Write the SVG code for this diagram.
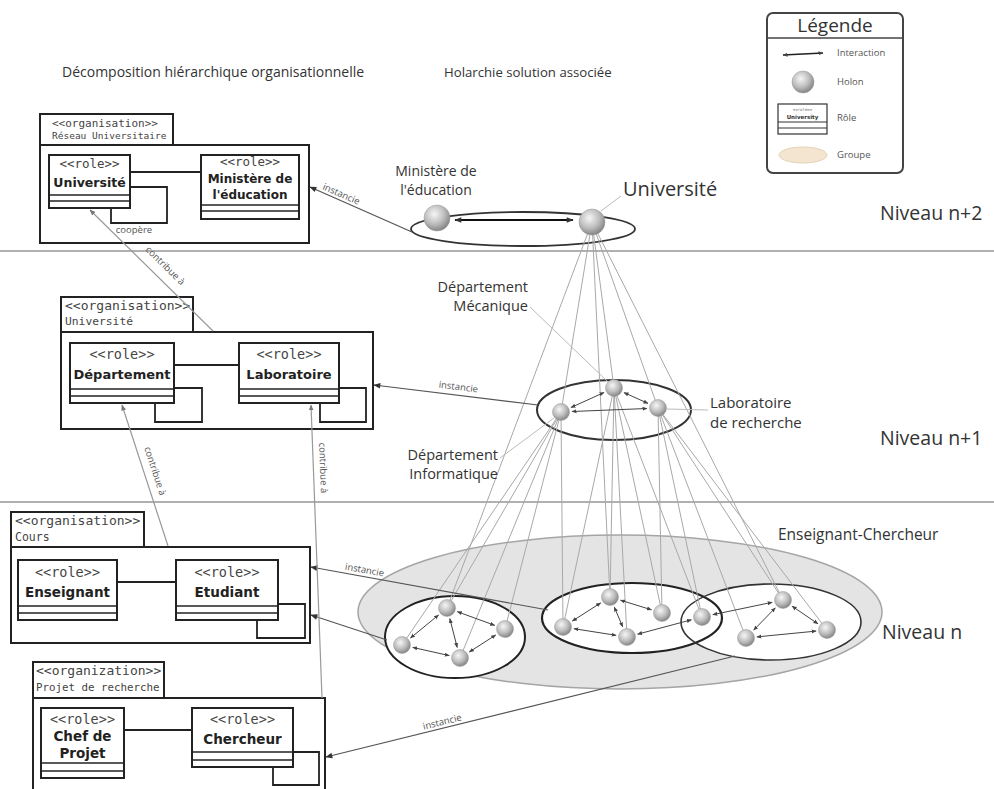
<svg xmlns="http://www.w3.org/2000/svg" width="994" height="789" viewBox="0 0 994 789">
  <defs>
    <radialGradient id="sph" cx="0.4" cy="0.35" r="0.7">
      <stop offset="0" stop-color="#f6f6f6"/>
      <stop offset="0.55" stop-color="#bdbdbd"/>
      <stop offset="1" stop-color="#7c7c7c"/>
    </radialGradient>
    <marker id="ah" viewBox="0 0 10 10" refX="9" refY="5" markerWidth="8" markerHeight="7" orient="auto-start-reverse" markerUnits="userSpaceOnUse">
      <path d="M0,1 L10,5 L0,9 z" fill="#333"/>
    </marker>
    <marker id="ahs" viewBox="0 0 10 10" refX="9" refY="5" markerWidth="5" markerHeight="5" orient="auto-start-reverse" markerUnits="userSpaceOnUse">
      <path d="M0,1 L10,5 L0,9 z" fill="#444"/>
    </marker>
    <marker id="ahg" viewBox="0 0 10 10" refX="9" refY="5" markerWidth="6" markerHeight="6" orient="auto-start-reverse" markerUnits="userSpaceOnUse">
      <path d="M0,1 L10,5 L0,9 z" fill="#777"/>
    </marker>
  </defs>
  <style>
    .box { fill:#fff; stroke:#222; stroke-width:2; }
    .rl { stroke:#222; stroke-width:1.6; fill:none; }
    .loop { stroke:#222; stroke-width:1.8; fill:none; }
    .mono { font-family:"DejaVu Sans Mono","Liberation Mono",monospace; fill:#444; }
    .rm { font-family:"DejaVu Sans Mono","Liberation Mono",monospace; fill:#444; text-anchor:middle; }
    .rn { font-family:"DejaVu Sans","Liberation Sans",sans-serif; font-weight:bold; fill:#222; text-anchor:middle; }
    .sans { font-family:"Open Sans","DejaVu Sans",sans-serif; fill:#333; }
    .small { font-family:"Open Sans","DejaVu Sans",sans-serif; fill:#555; font-size:9.5px; }
    .sep { stroke:#b0b0b0; stroke-width:2; }
    .link { stroke:#a8a8a8; stroke-width:1; fill:none; }
    .lead { stroke:#bbb; stroke-width:1; fill:none; }
    .inst { stroke:#555; stroke-width:1.2; fill:none; marker-end:url(#ah); }
    .contrib { stroke:#999; stroke-width:1.2; fill:none; marker-end:url(#ahg); }
    .ia { stroke:#444; stroke-width:1; marker-start:url(#ahs); marker-end:url(#ahs); }
    .holon { fill:url(#sph); stroke:#999; stroke-width:0.5; }
    .grp { fill:#fff; stroke:#222; stroke-width:2; }
  </style>

  <rect width="994" height="789" fill="#fff"/>

  <!-- column titles -->
  <text class="sans" x="62" y="77" font-size="14">Décomposition hiérarchique organisationnelle</text>
  <text class="sans" x="444" y="77" font-size="13.2">Holarchie solution associée</text>

  <!-- level separators -->
  <g id="separators">
    <line class="sep" x1="0" y1="251" x2="994" y2="251"/>
    <line class="sep" x1="0" y1="502" x2="994" y2="502"/>
  </g>

  <!-- level labels -->
  <text class="sans" x="880" y="220" font-size="19.5">Niveau n+2</text>
  <text class="sans" x="880" y="445" font-size="19.5">Niveau n+1</text>
  <text class="sans" x="882" y="639" font-size="19.5">Niveau n</text>

  <!-- legend -->
  <g id="legend">
    <rect x="767" y="13" width="136" height="160" rx="6" fill="#fff" stroke="#444" stroke-width="2"/>
    <line x1="767" y1="38" x2="903" y2="38" stroke="#444" stroke-width="1.5"/>
    <text class="sans" x="835" y="32" font-size="19" text-anchor="middle">Légende</text>
    <line x1="783" y1="55" x2="823" y2="53" stroke="#222" stroke-width="1.5" marker-start="url(#ahs)" marker-end="url(#ahs)"/>
    <text class="small" x="837" y="56">Interaction</text>
    <circle class="holon" cx="803" cy="82" r="11"/>
    <text class="small" x="837" y="85">Holon</text>
    <rect x="778" y="104" width="49" height="30" fill="#fff" stroke="#333" stroke-width="1.2"/>
    <line x1="778" y1="122" x2="827" y2="122" stroke="#333" stroke-width="1.2"/>
    <line x1="778" y1="128" x2="827" y2="128" stroke="#333" stroke-width="1"/>
    <text x="802.5" y="111" font-family="DejaVu Sans Mono, monospace" font-size="4" fill="#666" text-anchor="middle">&lt;&lt;role&gt;&gt;</text>
    <text x="802.5" y="119" font-family="DejaVu Sans, sans-serif" font-size="5.5" font-weight="bold" fill="#333" text-anchor="middle">University</text>
    <text class="small" x="837" y="121">Rôle</text>
    <ellipse cx="803" cy="155" rx="24" ry="8" fill="#f3e5cf" stroke="#e3d3b8" stroke-width="1"/>
    <text class="small" x="837" y="158">Groupe</text>
  </g>

  <!-- organisation: Réseau Universitaire -->
  <g id="org-reseau">
    <rect class="box" x="40" y="114" width="133" height="31"/>
    <rect class="box" x="40" y="145" width="269" height="98"/>
    <text class="mono" x="52" y="127" font-size="11">&lt;&lt;organisation&gt;&gt;</text>
    <text class="mono" x="52" y="139" font-size="9.5">Réseau Universitaire</text>
  </g>
  <g id="role-universite">
    <rect class="box" x="49" y="155" width="81" height="53"/>
    <line class="rl" x1="49" y1="195" x2="130" y2="195"/>
    <line class="rl" x1="49" y1="201" x2="130" y2="201"/>
    <text class="rm" x="89.5" y="168" font-size="12.5">&lt;&lt;role&gt;&gt;</text>
    <text class="rn" x="89.5" y="187" font-size="12.5">Université</text>
  </g>
  <g id="role-ministere">
    <rect class="box" x="201" y="155" width="98" height="64"/>
    <line class="rl" x1="201" y1="205" x2="299" y2="205"/>
    <line class="rl" x1="201" y1="211" x2="299" y2="211"/>
    <text class="rm" x="250" y="166" font-size="12.5">&lt;&lt;role&gt;&gt;</text>
    <text class="rn" x="250" y="183" font-size="12">Ministère de</text>
    <text class="rn" x="250" y="199" font-size="12">l'éducation</text>
  </g>

  <!-- organisation: Université -->
  <g id="org-universite">
    <rect class="box" x="61" y="297" width="132" height="35"/>
    <rect class="box" x="61" y="332" width="312" height="97"/>
    <text class="mono" x="65" y="310" font-size="13">&lt;&lt;organisation&gt;&gt;</text>
    <text class="mono" x="65" y="325" font-size="11.3">Université</text>
  </g>
  <g id="role-departement">
    <rect class="box" x="70" y="343" width="104" height="60"/>
    <line class="rl" x1="70" y1="389" x2="174" y2="389"/>
    <line class="rl" x1="70" y1="396" x2="174" y2="396"/>
    <text class="rm" x="122" y="359" font-size="13.5">&lt;&lt;role&gt;&gt;</text>
    <text class="rn" x="122" y="379" font-size="13">Département</text>
  </g>
  <g id="role-laboratoire">
    <rect class="box" x="239" y="343" width="100" height="60"/>
    <line class="rl" x1="239" y1="389" x2="339" y2="389"/>
    <line class="rl" x1="239" y1="396" x2="339" y2="396"/>
    <text class="rm" x="289" y="359" font-size="13.5">&lt;&lt;role&gt;&gt;</text>
    <text class="rn" x="289" y="379" font-size="13">Laboratoire</text>
  </g>

  <!-- organisation: Cours -->
  <g id="org-cours">
    <rect class="box" x="11" y="512" width="133" height="35"/>
    <rect class="box" x="11" y="547" width="299" height="96"/>
    <text class="mono" x="15" y="525" font-size="13">&lt;&lt;organisation&gt;&gt;</text>
    <text class="mono" x="15" y="541" font-size="11.5">Cours</text>
  </g>
  <g id="role-enseignant">
    <rect class="box" x="18" y="560" width="99" height="60"/>
    <line class="rl" x1="18" y1="606" x2="117" y2="606"/>
    <line class="rl" x1="18" y1="613" x2="117" y2="613"/>
    <text class="rm" x="67.5" y="577" font-size="13.5">&lt;&lt;role&gt;&gt;</text>
    <text class="rn" x="67.5" y="597" font-size="13.5">Enseignant</text>
  </g>
  <g id="role-etudiant">
    <rect class="box" x="176" y="560" width="102" height="60"/>
    <line class="rl" x1="176" y1="606" x2="278" y2="606"/>
    <line class="rl" x1="176" y1="613" x2="278" y2="613"/>
    <text class="rm" x="227" y="577" font-size="13.5">&lt;&lt;role&gt;&gt;</text>
    <text class="rn" x="227" y="597" font-size="13.5">Etudiant</text>
  </g>

  <!-- organisation: Projet de recherche -->
  <g id="org-projet">
    <rect class="box" x="33" y="662" width="131" height="36"/>
    <rect class="box" x="33" y="698" width="292" height="102"/>
    <text class="mono" x="36" y="675" font-size="13">&lt;&lt;organization&gt;&gt;</text>
    <text class="mono" x="36" y="691" font-size="10.8">Projet de recherche</text>
  </g>
  <g id="role-chef">
    <rect class="box" x="41" y="708" width="83" height="70"/>
    <line class="rl" x1="41" y1="763" x2="124" y2="763"/>
    <line class="rl" x1="41" y1="771" x2="124" y2="771"/>
    <text class="rm" x="82.5" y="724" font-size="13.5">&lt;&lt;role&gt;&gt;</text>
    <text class="rn" x="82.5" y="741" font-size="13.5">Chef de</text>
    <text class="rn" x="82.5" y="758" font-size="13.5">Projet</text>
  </g>
  <g id="role-chercheur">
    <rect class="box" x="192" y="708" width="101" height="59"/>
    <line class="rl" x1="192" y1="752" x2="293" y2="752"/>
    <line class="rl" x1="192" y1="760" x2="293" y2="760"/>
    <text class="rm" x="242.5" y="724" font-size="13.5">&lt;&lt;role&gt;&gt;</text>
    <text class="rn" x="242.5" y="744" font-size="13.5">Chercheur</text>
  </g>

  <!-- role associations and self-loops -->
  <g id="associations">
    <line class="loop" x1="130" y1="172" x2="201" y2="172"/>
    <polyline class="loop" points="130,187 167,187 167,223 111,223 111,208"/>
    <text class="small" x="134" y="233" text-anchor="middle" font-size="9">coopère</text>
    <line class="loop" x1="174" y1="365" x2="239" y2="365"/>
    <polyline class="loop" points="174,388 202,388 202,422 155,422 155,403"/>
    <polyline class="loop" points="339,388 366,388 366,422 320,422 320,403"/>
    <line class="loop" x1="117" y1="582" x2="176" y2="582"/>
    <polyline class="loop" points="278,604 305,604 305,638 257,638 257,620"/>
    <line class="loop" x1="124" y1="730" x2="192" y2="730"/>
    <polyline class="loop" points="293,752 319,752 319,785 273,785 273,767"/>
  </g>

  <!-- level n group -->
  <ellipse id="group-enseignant-chercheur" cx="620" cy="612" rx="262" ry="77" fill="#e4e4e4" stroke="#a5a5a5" stroke-width="1.5"/>
  <g id="group-cours">
    <ellipse class="grp" cx="455" cy="637" rx="70" ry="41"/>
  </g>
  <g id="group-middle">
    <ellipse cx="632" cy="618" rx="90" ry="35" fill="#fff"/>
  </g>
  <g id="group-projet">
    <ellipse cx="771" cy="622" rx="90" ry="38" fill="#fff"/>
  </g>
  <ellipse cx="632" cy="618" rx="90" ry="35" fill="none" stroke="#222" stroke-width="2.2"/>
  <ellipse cx="771" cy="622" rx="90" ry="38" fill="none" stroke="#333" stroke-width="1.6"/>

  <!-- n+2 and n+1 groups -->
  <ellipse id="group-n2" cx="523" cy="229" rx="112" ry="17" fill="none" stroke="#333" stroke-width="1.8"/>
  <ellipse id="group-n1" cx="614" cy="410" rx="77" ry="30" fill="none" stroke="#333" stroke-width="2"/>

  <!-- composition links between levels -->
  <g id="composition-links">
    <line class="link" x1="592" y1="222" x2="561" y2="412"/>
    <line class="link" x1="592" y1="222" x2="614" y2="388"/>
    <line class="link" x1="592" y1="222" x2="658" y2="408"/>
    <line class="link" x1="592" y1="222" x2="447" y2="608"/>
    <line class="link" x1="592" y1="222" x2="610" y2="597"/>
    <line class="link" x1="592" y1="222" x2="783" y2="600"/>
    <line class="link" x1="561" y1="412" x2="447" y2="608"/>
    <line class="link" x1="561" y1="412" x2="505" y2="629"/>
    <line class="link" x1="561" y1="412" x2="402" y2="645"/>
    <line class="link" x1="561" y1="412" x2="460" y2="658"/>
    <line class="link" x1="561" y1="412" x2="563" y2="627"/>
    <line class="link" x1="614" y1="388" x2="610" y2="597"/>
    <line class="link" x1="614" y1="388" x2="563" y2="627"/>
    <line class="link" x1="614" y1="388" x2="627" y2="637"/>
    <line class="link" x1="614" y1="388" x2="662" y2="613"/>
    <line class="link" x1="614" y1="388" x2="702" y2="617"/>
    <line class="link" x1="658" y1="408" x2="702" y2="617"/>
    <line class="link" x1="658" y1="408" x2="783" y2="600"/>
    <line class="link" x1="658" y1="408" x2="827" y2="630"/>
    <line class="link" x1="658" y1="408" x2="746" y2="638"/>
    <line class="link" x1="658" y1="408" x2="662" y2="613"/>
  </g>

  <!-- label leaders -->
  <g id="leaders">
    <line class="lead" x1="621" y1="196" x2="601" y2="211"/>
    <line class="lead" x1="530" y1="307" x2="607" y2="381"/>
    <line class="lead" x1="500" y1="458" x2="554" y2="418"/>
    <line class="lead" x1="708" y1="410" x2="667" y2="409"/>
  </g>

  <!-- instanciation and contribution connectors -->
  <g id="connectors">
    <line class="inst" x1="412" y1="232" x2="310" y2="187"/>
    <text class="small" transform="translate(340,197) rotate(23.8)" text-anchor="middle" font-size="10">instancie</text>
    <line class="inst" x1="538" y1="405" x2="374" y2="385"/>
    <text class="small" transform="translate(458,390) rotate(7)" text-anchor="middle" font-size="10">instancie</text>
    <line class="inst" x1="548" y1="610" x2="311" y2="567"/>
    <text class="small" transform="translate(364,573) rotate(10.3)" text-anchor="middle" font-size="10">instancie</text>
    <line class="inst" x1="387" y1="640" x2="311" y2="615"/>
    <line class="inst" x1="735" y1="656" x2="326" y2="757"/>
    <text class="small" transform="translate(443,725) rotate(-13.9)" text-anchor="middle" font-size="10">instancie</text>

    <line class="contrib" x1="213" y1="331" x2="90" y2="210"/>
    <text class="small" transform="translate(163,268) rotate(44.5)" text-anchor="middle" font-size="10">contribue à</text>
    <line class="contrib" x1="168" y1="546" x2="122" y2="405"/>
    <text class="small" transform="translate(152,472) rotate(72)" text-anchor="middle" font-size="10">contribue à</text>
    <line class="contrib" x1="322" y1="698" x2="311" y2="405"/>
    <text class="small" transform="translate(320,468) rotate(88)" text-anchor="middle" font-size="10">contribue à</text>
  </g>

  <!-- interactions between holons -->
  <g id="interactions">
    <line x1="455" y1="220" x2="573" y2="220" stroke="#111" stroke-width="1.8" marker-start="url(#ah)" marker-end="url(#ah)"/>
    <line class="ia" x1="604" y1="392.5" x2="571" y2="407.5"/>
    <line class="ia" x1="624" y1="392.6" x2="648" y2="403.4"/>
    <line class="ia" x1="572" y1="411.5" x2="647" y2="408.5"/>
    <line class="ia" x1="438.5" y1="615" x2="410.5" y2="638"/>
    <line class="ia" x1="449.8" y1="618.6" x2="457.2" y2="647.4"/>
    <line class="ia" x1="457.3" y1="611.7" x2="494.7" y2="625.3"/>
    <line class="ia" x1="495.7" y1="635" x2="469.3" y2="652"/>
    <line class="ia" x1="412.7" y1="647.4" x2="449.3" y2="655.6"/>
    <line class="ia" x1="600.7" y1="602.9" x2="572.3" y2="621.1"/>
    <line class="ia" x1="614.3" y1="607.1" x2="622.7" y2="626.9"/>
    <line class="ia" x1="573.9" y1="628.7" x2="616.1" y2="635.3"/>
    <line class="ia" x1="620.5" y1="600.2" x2="651.5" y2="609.8"/>
    <line class="ia" x1="637.6" y1="634.2" x2="691.4" y2="619.8"/>
    <line class="ia" x1="712.8" y1="614.7" x2="772.2" y2="602.3"/>
    <line class="ia" x1="775.3" y1="607.9" x2="753.7" y2="630.1"/>
    <line class="ia" x1="792.1" y1="606.2" x2="817.9" y2="623.8"/>
    <line class="ia" x1="756.9" y1="636.9" x2="816.1" y2="631.1"/>
  </g>

  <!-- holons -->
  <g id="holon-ministere"><circle class="holon" cx="437" cy="218" r="13"/></g>
  <g id="holon-universite"><circle class="holon" cx="592" cy="222" r="13"/></g>
  <g id="holon-dep-mecanique"><circle class="holon" cx="614" cy="388" r="8.5"/></g>
  <g id="holon-dep-informatique"><circle class="holon" cx="561" cy="412" r="8.5"/></g>
  <g id="holon-laboratoire"><circle class="holon" cx="658" cy="408" r="8.5"/></g>
  <g id="holons-n">
    <circle class="holon" cx="447" cy="608" r="8.5"/>
    <circle class="holon" cx="505" cy="629" r="8.5"/>
    <circle class="holon" cx="402" cy="645" r="8.5"/>
    <circle class="holon" cx="460" cy="658" r="8.5"/>
    <circle class="holon" cx="610" cy="597" r="8.5"/>
    <circle class="holon" cx="563" cy="627" r="8.5"/>
    <circle class="holon" cx="627" cy="637" r="8.5"/>
    <circle class="holon" cx="662" cy="613" r="8.5"/>
    <circle class="holon" cx="702" cy="617" r="8.5"/>
    <circle class="holon" cx="783" cy="600" r="8.5"/>
    <circle class="holon" cx="827" cy="630" r="8.5"/>
    <circle class="holon" cx="746" cy="638" r="8.5"/>
  </g>

  <!-- holon labels -->
  <text class="sans" x="436" y="176" font-size="14" text-anchor="middle">Ministère de</text>
  <text class="sans" x="436" y="195" font-size="14" text-anchor="middle">l'éducation</text>
  <text class="sans" x="623" y="196" font-size="20">Université</text>
  <text class="sans" x="528" y="292" font-size="14.5" text-anchor="end">Département</text>
  <text class="sans" x="528" y="311" font-size="14.5" text-anchor="end">Mécanique</text>
  <text class="sans" x="710" y="408" font-size="15">Laboratoire</text>
  <text class="sans" x="710" y="428" font-size="15">de recherche</text>
  <text class="sans" x="498" y="460" font-size="14.5" text-anchor="end">Département</text>
  <text class="sans" x="498" y="479" font-size="14.5" text-anchor="end">Informatique</text>
  <text class="sans" x="778" y="540" font-size="15.5">Enseignant-Chercheur</text>
</svg>
